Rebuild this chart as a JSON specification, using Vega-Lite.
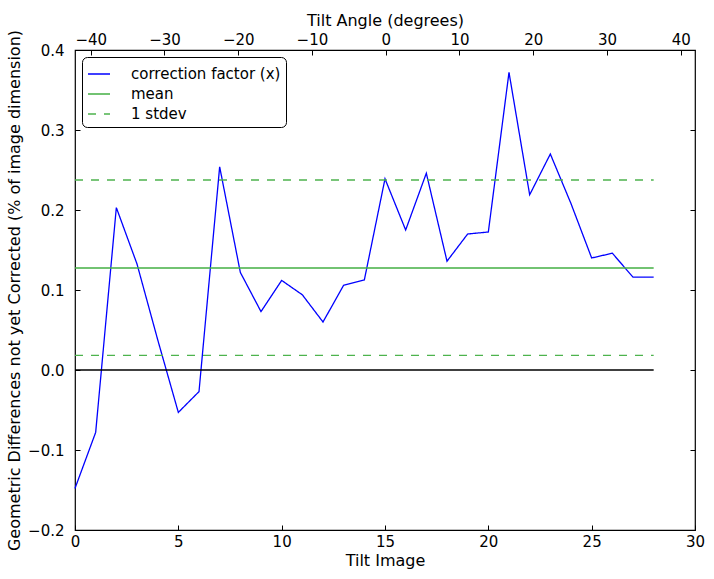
{
  "$schema": "https://vega.github.io/schema/vega-lite/v6.json",
  "width": 620,
  "height": 480,
  "autosize": "none",
  "padding": {"left": 75, "top": 50, "right": 19, "bottom": 49},
  "background": "white",
  "config": {
    "font": "DejaVu Sans",
    "view": {"stroke": "black", "strokeWidth": 1.2},
    "axis": {
      "domain": false,
      "grid": false,
      "labelFlush": false,
      "tickColor": "black",
      "tickSize": -5,
      "tickWidth": 1,
      "labelColor": "black",
      "labelFontSize": 15,
      "labelFont": "DejaVu Sans",
      "titleFont": "DejaVu Sans",
      "titleFontSize": 16,
      "titleFontWeight": "normal",
      "titleColor": "black"
    }
  },
  "datasets": {
    "lines": [
      {"image": 0, "value": -0.148, "series": "correction factor (x)", "grp": "cf"},
      {"image": 1, "value": -0.078, "series": "correction factor (x)", "grp": "cf"},
      {"image": 2, "value": 0.203, "series": "correction factor (x)", "grp": "cf"},
      {"image": 3, "value": 0.1325, "series": "correction factor (x)", "grp": "cf"},
      {"image": 4, "value": 0.038, "series": "correction factor (x)", "grp": "cf"},
      {"image": 5, "value": -0.053, "series": "correction factor (x)", "grp": "cf"},
      {"image": 6, "value": -0.027, "series": "correction factor (x)", "grp": "cf"},
      {"image": 7, "value": 0.254, "series": "correction factor (x)", "grp": "cf"},
      {"image": 8, "value": 0.122, "series": "correction factor (x)", "grp": "cf"},
      {"image": 9, "value": 0.073, "series": "correction factor (x)", "grp": "cf"},
      {"image": 10, "value": 0.112, "series": "correction factor (x)", "grp": "cf"},
      {"image": 11, "value": 0.094, "series": "correction factor (x)", "grp": "cf"},
      {"image": 12, "value": 0.06, "series": "correction factor (x)", "grp": "cf"},
      {"image": 13, "value": 0.106, "series": "correction factor (x)", "grp": "cf"},
      {"image": 14, "value": 0.1125, "series": "correction factor (x)", "grp": "cf"},
      {"image": 15, "value": 0.239, "series": "correction factor (x)", "grp": "cf"},
      {"image": 16, "value": 0.175, "series": "correction factor (x)", "grp": "cf"},
      {"image": 17, "value": 0.246, "series": "correction factor (x)", "grp": "cf"},
      {"image": 18, "value": 0.136, "series": "correction factor (x)", "grp": "cf"},
      {"image": 19, "value": 0.17, "series": "correction factor (x)", "grp": "cf"},
      {"image": 20, "value": 0.1725, "series": "correction factor (x)", "grp": "cf"},
      {"image": 21, "value": 0.372, "series": "correction factor (x)", "grp": "cf"},
      {"image": 22, "value": 0.219, "series": "correction factor (x)", "grp": "cf"},
      {"image": 23, "value": 0.27, "series": "correction factor (x)", "grp": "cf"},
      {"image": 24, "value": 0.208, "series": "correction factor (x)", "grp": "cf"},
      {"image": 25, "value": 0.14, "series": "correction factor (x)", "grp": "cf"},
      {"image": 26, "value": 0.146, "series": "correction factor (x)", "grp": "cf"},
      {"image": 27, "value": 0.116, "series": "correction factor (x)", "grp": "cf"},
      {"image": 28, "value": 0.116, "series": "correction factor (x)", "grp": "cf"},
      {"image": 0, "value": 0.1275, "series": "mean", "grp": "mean"},
      {"image": 28, "value": 0.1275, "series": "mean", "grp": "mean"},
      {"image": 0, "value": 0.2375, "series": "1 stdev", "grp": "upper"},
      {"image": 28, "value": 0.2375, "series": "1 stdev", "grp": "upper"},
      {"image": 0, "value": 0.0183, "series": "1 stdev", "grp": "lower"},
      {"image": 28, "value": 0.0183, "series": "1 stdev", "grp": "lower"}
    ],
    "zero": [{"start": 0, "end": 28, "value": 0}],
    "angle": [{"angle": -42.13}, {"angle": 41.94}]
  },
  "layer": [
    {
      "data": {"name": "angle"},
      "mark": {"type": "point", "opacity": 0},
      "encoding": {
        "x": {
          "field": "angle",
          "type": "quantitative",
          "scale": {"domain": [-42.13, 41.94], "nice": false, "zero": false},
          "axis": {
            "orient": "top",
            "title": "Tilt Angle (degrees)",
            "values": [-40, -30, -20, -10, 0, 10, 20, 30, 40],
            "format": "d",
            "labelPadding": 8,
            "titlePadding": 4
          }
        }
      }
    },
    {
      "layer": [
        {
          "data": {"name": "lines"},
          "mark": {"type": "line", "strokeWidth": 1.3},
          "encoding": {
            "x": {
              "field": "image",
              "type": "quantitative",
              "scale": {"domain": [0, 30], "nice": false, "zero": false},
              "axis": {
                "orient": "bottom",
                "title": "Tilt Image",
                "values": [0, 5, 10, 15, 20, 25, 30],
                "format": "d",
                "labelPadding": 9,
                "titlePadding": 3
              }
            },
            "y": {
              "field": "value",
              "type": "quantitative",
              "scale": {"domain": [-0.2, 0.4], "nice": false, "zero": false},
              "axis": {
                "orient": "left",
                "title": "Geometric Differences not yet Corrected (% of image dimension)",
                "values": [-0.2, -0.1, 0, 0.1, 0.2, 0.3, 0.4],
                "format": ".1f",
                "labelPadding": 16,
                "titlePadding": 5
              }
            },
            "color": {
              "field": "series",
              "type": "nominal",
              "scale": {
                "domain": ["correction factor (x)", "mean", "1 stdev"],
                "range": ["#0000ff", "#44b044", "#4db34d"]
              },
              "legend": {
                "title": null,
                "orient": "none",
                "legendX": 7,
                "legendY": 7,
                "symbolType": "stroke",
                "symbolSize": 484,
                "symbolStrokeWidth": 1.3,
                "labelFontSize": 15,
                "labelFont": "DejaVu Sans",
                "labelColor": "black",
                "labelOffset": 20,
                "rowPadding": 0,
                "padding": 5,
                "strokeColor": "black",
                "fillColor": "white",
                "cornerRadius": 5
              }
            },
            "strokeDash": {
              "field": "series",
              "type": "nominal",
              "scale": {
                "domain": ["correction factor (x)", "mean", "1 stdev"],
                "range": [[1, 0], [1, 0], [8, 8]]
              },
              "legend": {
                "title": null,
                "orient": "none",
                "legendX": 7,
                "legendY": 7,
                "symbolType": "stroke",
                "symbolSize": 484,
                "symbolStrokeWidth": 1.3,
                "labelFontSize": 15,
                "labelFont": "DejaVu Sans",
                "labelColor": "black",
                "labelOffset": 20,
                "rowPadding": 0,
                "padding": 5,
                "strokeColor": "black",
                "fillColor": "white",
                "cornerRadius": 5
              }
            },
            "detail": {"field": "grp"}
          }
        },
        {
          "data": {"name": "zero"},
          "mark": {"type": "rule", "color": "black", "strokeWidth": 1.3},
          "encoding": {
            "x": {"field": "start", "type": "quantitative"},
            "x2": {"field": "end"},
            "y": {
              "field": "value",
              "type": "quantitative",
              "axis": {
                "orient": "right",
                "title": null,
                "labels": false,
                "values": [-0.2, -0.1, 0, 0.1, 0.2, 0.3, 0.4]
              }
            }
          }
        }
      ],
      "resolve": {"axis": {"y": "independent"}}
    }
  ],
  "resolve": {"scale": {"x": "independent"}}
}
